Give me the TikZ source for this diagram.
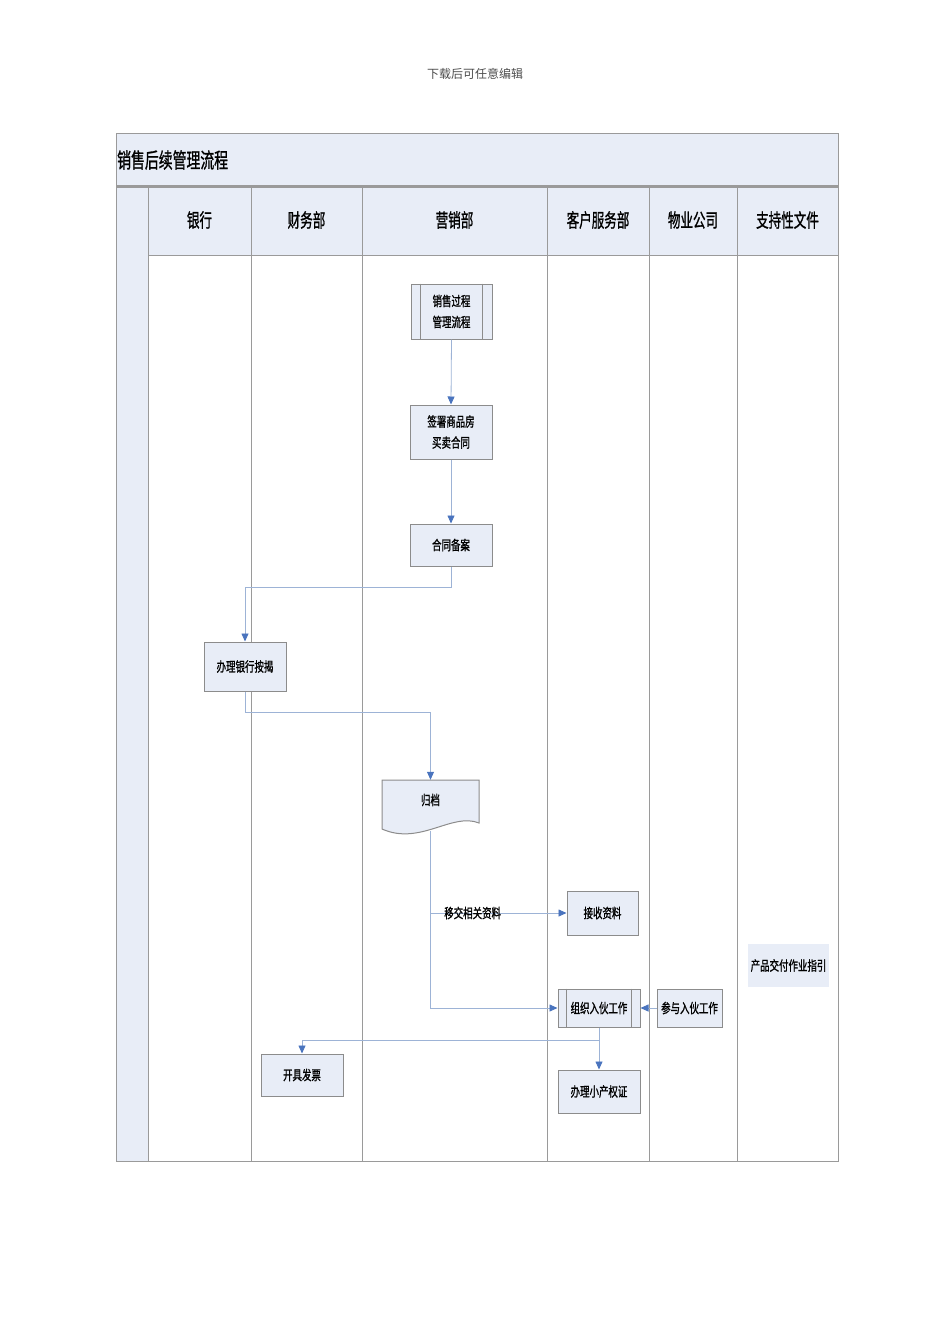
\documentclass[tikz,border=0pt]{standalone}
\usepackage{fontspec}
\usepackage{graphicx}
\newfontfamily\cjk[FakeBold=1.3]{Noto Sans CJK SC}
\newfontfamily\cjkr{Noto Sans CJK SC}
\newcommand{\cz}[1]{\scalebox{0.7}[1]{#1}}
\newcommand{\ch}[1]{\scalebox{0.66}[1]{#1}}
\usetikzlibrary{arrows.meta,calc}
\definecolor{lfill}{HTML}{E8EDF7}
\definecolor{lgrey}{HTML}{9A9A9A}
\definecolor{bgrey}{HTML}{8C8C8C}
\definecolor{cline}{HTML}{9DB3D6}
\definecolor{ahead}{HTML}{4A74BE}
\tikzset{
  box/.style={draw=bgrey, line width=1pt, fill=lfill, inner sep=2pt, align=center, font=\cjk\fontsize{13.5}{21}\selectfont},
  conn/.style={draw=cline, line width=0.8pt, -{Triangle[length=8pt,width=7pt,fill=ahead,color=ahead]}},
  lane/.style={draw=lgrey, line width=0.8pt},
  head/.style={font=\cjk\fontsize{19}{20}\selectfont},
}
\begin{document}
\begin{tikzpicture}[x=1pt,y=-1pt]
\useasboundingbox (0,0) rectangle (950,1344);
% top caption
\node[font=\cjkr\fontsize{12}{14}\selectfont, text=black!70] (cap) at (475,74) {下载后可任意编辑};
% title band
\fill[lfill] (116,133) rectangle (838,186);
\draw[lane] (116,133) -- (838,133);
\node[anchor=west, font=\cjk\fontsize{21}{24}\selectfont, inner sep=0pt] (title) at (117,160) {\ch{销售后续管理流程}};
% header row and left strip
\fill[lfill] (148,188) rectangle (838,255);
\fill[lfill] (116,188) rectangle (148,1161);
\draw[draw=lgrey, line width=2.2pt] (116,186.5) -- (838,186.5);
\draw[lane] (116,133) -- (116,1161) -- (838,1161) -- (838,133);
\foreach \x in {148,251,362,547,649,737} \draw[lane] (\x,188) -- (\x,1161);
\draw[lane] (148,255.5) -- (838,255.5);
% lane titles
\node[head] (h1) at (199.5,220) {\ch{银行}};
\node[head] (h2) at (306.5,220) {\ch{财务部}};
\node[head] (h3) at (454.5,220) {\ch{营销部}};
\node[head] (h4) at (598,220) {\ch{客户服务部}};
\node[head] (h5) at (693,220) {\ch{物业公司}};
\node[head] (h6) at (787.5,220) {\ch{支持性文件}};
% nodes
\node[box, minimum width=81pt, minimum height=55pt] (p1) at (451.5,311.5) {\cz{销售过程}\\\cz{管理流程}};
\draw[draw=bgrey, line width=0.8pt] ([xshift=10pt]p1.north west) -- ([xshift=10pt]p1.south west);
\draw[draw=bgrey, line width=0.8pt] ([xshift=-10pt]p1.north east) -- ([xshift=-10pt]p1.south east);
\node[box, minimum width=82pt, minimum height=54pt] (p2) at (451,432) {\cz{签署商品房}\\\cz{买卖合同}};
\node[box, minimum width=82pt, minimum height=42pt] (p3) at (451,545) {\cz{合同备案}};
\node[box, minimum width=82pt, minimum height=49pt] (p4) at (245,666.5) {\cz{办理银行按揭}};
% document shape
\filldraw[fill=lfill, draw=bgrey, line width=1pt] (382,780) -- (479,780) -- (479,823)
  .. controls (452,812) and (420,846) .. (382,829) -- cycle;
\node[font=\cjk\fontsize{13.5}{16}\selectfont, minimum width=97pt, minimum height=40pt, inner sep=0pt] (gd) at (430.5,800) {\cz{归档}};
\coordinate (gdb) at (430.5,831);
\node[box, minimum width=71pt, minimum height=44pt] (js) at (602.5,913) {\cz{接收资料}};
\node[fill=lfill, minimum width=81pt, minimum height=43pt, inner sep=2pt, font=\cjk\fontsize{13.5}{16}\selectfont] (zy) at (788.5,965.5) {\cz{产品交付作业指引}};
\node[box, minimum width=82pt, minimum height=38pt] (zz) at (599,1008) {\cz{组织入伙工作}};
\draw[draw=bgrey, line width=0.8pt] ([xshift=9pt]zz.north west) -- ([xshift=9pt]zz.south west);
\draw[draw=bgrey, line width=0.8pt] ([xshift=-9pt]zz.north east) -- ([xshift=-9pt]zz.south east);
\node[box, minimum width=65pt, minimum height=38pt] (cy) at (689.5,1008) {\cz{参与入伙工作}};
\node[box, minimum width=82pt, minimum height=42pt] (fp) at (302,1075) {\cz{开具发票}};
\node[box, minimum width=82pt, minimum height=43pt] (xc) at (599,1091.5) {\cz{办理小产权证}};
% connectors
\draw[conn] (p1.south) -- (p2.north);
\draw[conn] (p2.south) -- (p3.north);
\draw[conn] (p3.south) -- ++(0,21) -| (p4.north);
\draw[conn] (p4.south) -- ++(0,21) -| (gd.north);
\draw[conn] (gdb) |- (zz.west);
\draw[conn] (gdb |- js.west) -- node[pos=0.31, font=\cjk\fontsize{13.5}{16}\selectfont, inner sep=0pt] (lb) {\cz{移交相关资料}} (js.west);
\draw[conn] (cy.west) -- (zz.east);
\draw[conn] (zz.south) -- (xc.north);
\draw[conn] ([yshift=-13pt]zz.south) -| (fp.north);
\end{tikzpicture}
\end{document}
